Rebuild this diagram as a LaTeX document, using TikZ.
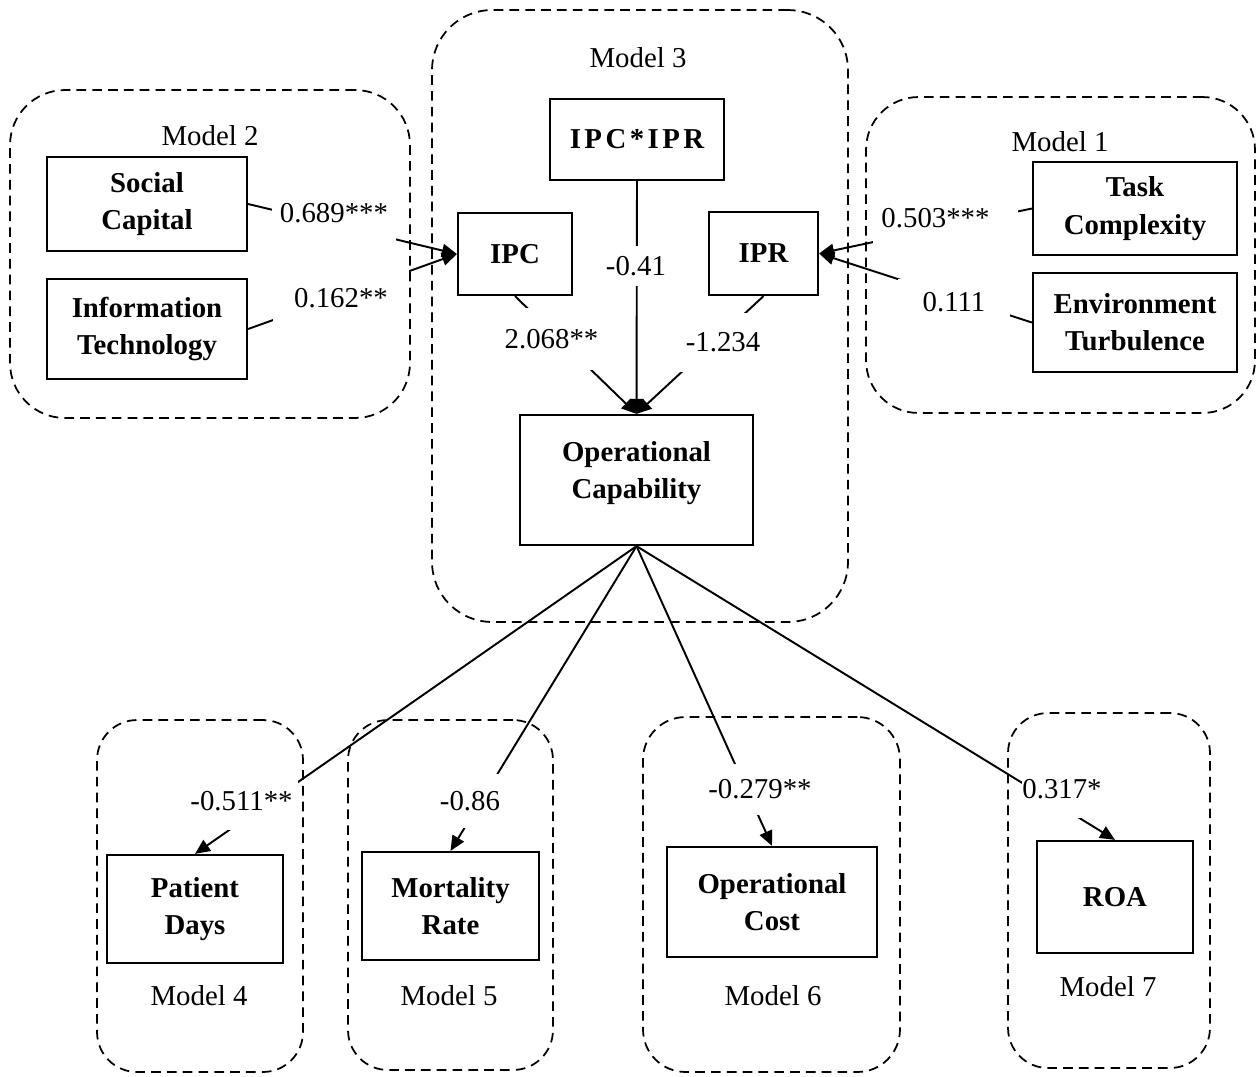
\documentclass[tikz,border=0pt]{standalone}
\usepackage{fontspec}
\setmainfont{Liberation Serif}
\usetikzlibrary{arrows.meta}

\begin{document}
\begin{tikzpicture}[x=0.02cm, y=-0.02cm,
  txt/.style={font=\fontsize{16.4}{20.4}\selectfont},
  var/.style={draw, line width=1.3pt, align=center, inner sep=0pt,
    font=\fontsize{16.4}{21.2}\selectfont\bfseries},
  grp/.style={draw, line width=1pt, dash pattern=on 5.5pt off 3.5pt},
  conn/.style={line width=1.1pt, -{Triangle[length=8.5pt,width=7.5pt]}},
  lab/.style={txt, fill=white, inner sep=0pt}]

\fill[white] (0,0) rectangle (1258,1076);
\useasboundingbox (0,0) rectangle (1258,1076);

% model groups
\node[grp, rounded corners=1.1cm, minimum width=8cm,    minimum height=6.56cm]  (g2) at (210,254) {};
\node[grp, rounded corners=1.2cm, minimum width=8.32cm, minimum height=12.24cm] (g3) at (640,316) {};
\node[grp, rounded corners=1.05cm,minimum width=7.78cm, minimum height=6.32cm]  (g1) at (1060.5,255) {};
\node[grp, rounded corners=0.8cm, minimum width=4.12cm, minimum height=7.04cm]  (g4) at (200,896) {};
\node[grp, rounded corners=0.8cm, minimum width=4.1cm,  minimum height=7cm]     (g5) at (450.5,895) {};
\node[grp, rounded corners=0.85cm,minimum width=5.14cm, minimum height=7.1cm]   (g6) at (771.5,894.5) {};
\node[grp, rounded corners=0.8cm, minimum width=4.04cm, minimum height=7.1cm]   (g7) at (1109,890.5) {};

\node[txt] (t2) at (210,136) {Model 2};
\node[txt] (t3) at (638,58) {Model 3};
\node[txt] (t1) at (1060,142) {Model 1};
\node[txt] (t4) at (199,996) {Model 4};
\node[txt] (t5) at (449,996) {Model 5};
\node[txt] (t6) at (773,996) {Model 6};
\node[txt] (t7) at (1108,987) {Model 7};

% variables
\node[var, minimum width=4cm, minimum height=1.88cm] (sc) at (147,204) {Social\\Capital};
\node[var, minimum width=4cm, minimum height=2cm] (it) at (147,329) {Information\\Technology};
\node[var, minimum width=3.48cm, minimum height=1.62cm] (ipcipr) at (637,139.5) {\addfontfeature{LetterSpace=12}IPC*IPR};
\node[var, minimum width=2.28cm, minimum height=1.64cm] (ipc) at (515,254) {IPC};
\node[var, minimum width=2.18cm, minimum height=1.66cm] (ipr) at (763.5,253.5) {IPR};
\node[var, minimum width=4.08cm, minimum height=1.86cm] (tc) at (1135,208.5) {Task\\Complexity};
\node[var, minimum width=4.08cm, minimum height=1.98cm] (et) at (1135,322.5) {Environment\\Turbulence};
\node[var] (oc) at (636.5,480) {\parbox[c][2.6cm][t]{4.66cm}{\centering\vspace{0.52cm}Operational\\Capability}};
\node[var, minimum width=3.52cm, minimum height=2.16cm] (pd) at (195,909) {Patient\\Days};
\node[var, minimum width=3.54cm, minimum height=2.16cm] (mr) at (450.5,906) {Mortality\\Rate};
\node[var, minimum width=4.2cm, minimum height=2.2cm] (cost) at (772,902) {Operational\\Cost};
\node[var, minimum width=3.12cm, minimum height=2.24cm] (roa) at (1115,897) {ROA};

% paths
\draw[conn] (sc.east) -- (ipc.west);
\draw[conn] (it.east) -- (ipc.west);
\draw[conn] (tc.west) -- (ipr.east);
\draw[conn] (et.west) -- (ipr.east);
\draw[conn] (ipcipr.south) -- (oc.north);
\draw[conn] (ipc.south) -- (oc.north);
\draw[conn] (ipr.south) -- (oc.north);
\draw[conn] (oc.south) -- (pd.north);
\draw[conn] (oc.south) -- (mr.north);
\draw[conn] (oc.south) -- (cost.north);
\draw[conn] (oc.south) -- (roa.north);

% coefficients
\node[lab, minimum width=2.5cm,  minimum height=1.16cm] (l689) at (334,213) {0.689***};
\node[lab, minimum width=2.72cm, minimum height=1.12cm] (l162) at (341,298) {0.162**};
\node[lab, minimum width=1.4cm,  minimum height=0.8cm]  (l041) at (636,266) {-0.41};
\node[lab, minimum width=2.26cm, minimum height=1.24cm] (l2068) at (551.5,339) {2.068**};
\node[lab, minimum width=1.88cm, minimum height=1.18cm] (l1234) at (723,342.5) {-1.234};
\node[lab, minimum width=2.9cm,  minimum height=1.04cm] (l503) at (945.5,218) {0.503***\kern0.4cm};
\node[lab, minimum width=2.24cm, minimum height=0.92cm] (l111) at (954,302) {0.111};
\node[lab, minimum width=2.26cm, minimum height=1.16cm] (l511) at (241.5,801) {-0.511**};
\node[lab, minimum width=1.4cm,  minimum height=1.08cm] (l086) at (470,801) {-0.86};
\node[lab, minimum width=2.2cm,  minimum height=1.02cm] (l279) at (760,789.5) {-0.279**};
\node[lab, minimum width=1.4cm,  minimum height=1.16cm] (l317) at (1062,789) {0.317*};
\end{tikzpicture}
\end{document}
